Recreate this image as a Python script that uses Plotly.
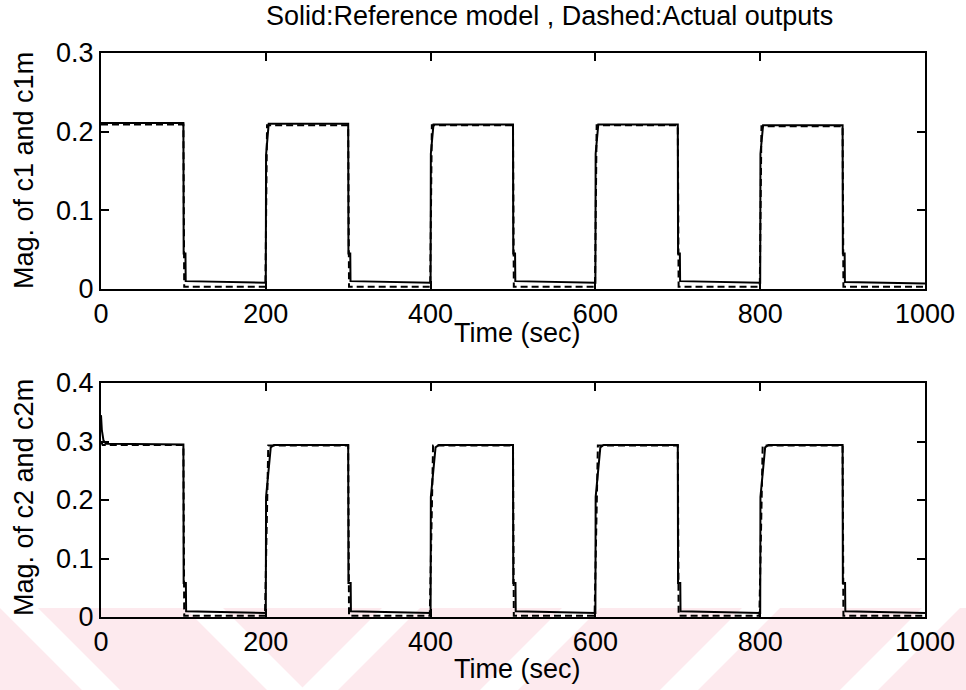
import plotly.graph_objects as go

# ---------------- data ----------------
# Top panel: c1m (reference model, solid) and c1 (actual output, dashed)
c1m_t = [0, 100, 100.3, 102.5, 102.8, 200, 200.3, 203.5,
         300, 300.3, 302.5, 302.8, 400, 400.3, 403.5,
         500, 500.3, 502.5, 502.8, 600, 600.3, 603.5,
         700, 700.3, 702.5, 702.8, 800, 800.3, 803.5,
         900, 900.3, 902.5, 902.8, 1000]
c1m_y = [0.211, 0.211, 0.045, 0.045, 0.010, 0.008, 0.170, 0.210,
         0.210, 0.045, 0.045, 0.010, 0.008, 0.172, 0.209,
         0.209, 0.045, 0.045, 0.010, 0.008, 0.172, 0.209,
         0.209, 0.045, 0.045, 0.010, 0.008, 0.172, 0.208,
         0.208, 0.045, 0.045, 0.009, 0.007]

c1_t = [0, 100, 101, 199.5, 201.5, 300, 301, 399.5, 401.5,
        500, 501, 599.5, 601.5, 700, 701, 799.5, 801.5, 900, 901, 1000]
c1_y = [0.209, 0.209, 0.003, 0.003, 0.208, 0.208, 0.003, 0.003, 0.208,
        0.208, 0.003, 0.003, 0.208, 0.208, 0.003, 0.003, 0.207, 0.207, 0.003, 0.003]

# Bottom panel: c2m (reference model, solid) and c2 (actual output, dashed)
c2m_t = [0, 1, 3, 6, 100, 100.3, 103, 103.3, 200, 200.3, 206, 210,
         300, 300.3, 303, 303.3, 400, 400.3, 406, 410,
         500, 500.3, 503, 503.3, 600, 600.3, 606, 610,
         700, 700.3, 703, 703.3, 800, 800.3, 806, 810,
         900, 900.3, 903, 903.3, 1000]
c2m_y = [0.345, 0.320, 0.302, 0.296, 0.295, 0.058, 0.058, 0.010, 0.007, 0.205, 0.290, 0.294,
         0.294, 0.058, 0.058, 0.010, 0.007, 0.205, 0.290, 0.294,
         0.294, 0.058, 0.058, 0.010, 0.007, 0.205, 0.290, 0.294,
         0.294, 0.058, 0.058, 0.010, 0.007, 0.205, 0.290, 0.294,
         0.294, 0.058, 0.058, 0.010, 0.007]

c2_t = [0, 2, 100, 101, 199, 203, 300, 301, 399, 403,
        500, 501, 599, 603, 700, 701, 799, 803, 900, 901, 1000]
c2_y = [0.300, 0.294, 0.294, 0.002, 0.002, 0.293, 0.293, 0.002, 0.002, 0.293,
        0.293, 0.002, 0.002, 0.293, 0.293, 0.002, 0.002, 0.293, 0.293, 0.002, 0.002]

x_ticks = [0, 200, 400, 600, 800, 1000]
y1_ticks = [0, 0.1, 0.2, 0.3]
y1_labels = ["0", "0.1", "0.2", "0.3"]
y2_ticks = [0, 0.1, 0.2, 0.3, 0.4]
y2_labels = ["0", "0.1", "0.2", "0.3", "0.4"]

title_text = "Solid:Reference model , Dashed:Actual outputs"
xlabel = "Time (sec)"
ylabel1 = "Mag. of c1 and c1m"
ylabel2 = "Mag. of c2 and c2m"

# ---------------- figure ----------------
FONT = "Liberation Sans, Arial, sans-serif"
W, H = 966, 690
ML, MR, MT, MB = 101, 41, 53, 73
PH = H - MT - MB
PW = W - ML - MR


def ypaper(py):
    return (H - MB - py) / PH


def xpaper(px):
    return (px - ML) / PW


fig = go.Figure()
dash = "7px,4px"
fig.add_trace(go.Scatter(x=c1_t, y=c1_y, mode="lines", xaxis="x", yaxis="y",
                         line=dict(color="black", width=2, dash=dash), showlegend=False))
fig.add_trace(go.Scatter(x=c1m_t, y=c1m_y, mode="lines", xaxis="x", yaxis="y",
                         line=dict(color="black", width=2), showlegend=False))
fig.add_trace(go.Scatter(x=c2_t, y=c2_y, mode="lines", xaxis="x2", yaxis="y2",
                         line=dict(color="black", width=2, dash=dash), showlegend=False))
fig.add_trace(go.Scatter(x=c2m_t, y=c2m_y, mode="lines", xaxis="x2", yaxis="y2",
                         line=dict(color="black", width=2), showlegend=False))

tick_font = dict(family=FONT, size=27, color="black")
axis_common = dict(showgrid=False, zeroline=False, showline=True, linecolor="black",
                   linewidth=2, mirror="ticks", ticks="inside", ticklen=8,
                   tickwidth=1.5, tickcolor="black", tickfont=tick_font)

fig.update_layout(
    width=W, height=H, plot_bgcolor="rgba(0,0,0,0)", paper_bgcolor="white",
    margin=dict(l=ML, r=MR, t=MT, b=MB),
    font=dict(family=FONT, size=24, color="black"),
    xaxis=dict(domain=[0, 1], range=[0, 1000], tickvals=x_ticks, anchor="y", **axis_common),
    yaxis=dict(domain=[ypaper(289), 1], range=[0, 0.3], tickvals=y1_ticks,
               ticktext=y1_labels, anchor="x", **axis_common),
    xaxis2=dict(domain=[0, 1], range=[0, 1000], tickvals=x_ticks, anchor="y2", **axis_common),
    yaxis2=dict(domain=[0, ypaper(383)], range=[0, 0.4], tickvals=y2_ticks,
                ticktext=y2_labels, anchor="x2", **axis_common),
)

# faint pink watermark band at the bottom of the page (diagonal stripes)
PINK = "#fdeaee"
wm_top, wm_bot = 608, 690


def ppath(pts):
    return "M " + " L ".join(f"{xpaper(x):.4f},{ypaper(y):.4f}" for x, y in pts) + " Z"


fig.add_shape(type="path", xref="paper", yref="paper", layer="below", line_width=0,
              fillcolor=PINK,
              path=ppath([(0, wm_top), (W, wm_top), (W, wm_bot), (0, wm_bot)]))
stripe_w = 38
back_tops = [0, 185]          # "\" white stripes (top-left x)
fwd_bots = [300, 480, 660, 840]  # "/" white stripes (bottom-left x)
drop = wm_bot - wm_top
for x0 in back_tops:
    fig.add_shape(type="path", xref="paper", yref="paper", layer="below", line_width=0,
                  fillcolor="white",
                  path=ppath([(x0, wm_top), (x0 + stripe_w, wm_top),
                              (x0 + stripe_w + drop, wm_bot), (x0 + drop, wm_bot)]))
for x0 in fwd_bots:
    fig.add_shape(type="path", xref="paper", yref="paper", layer="below", line_width=0,
                  fillcolor="white",
                  path=ppath([(x0, wm_bot), (x0 + stripe_w, wm_bot),
                              (x0 + stripe_w + drop, wm_top), (x0 + drop, wm_top)]))

title_font = dict(family=FONT, size=27, color="black")
label_font = dict(family=FONT, size=27, color="black")
fig.add_annotation(text=title_text, xref="paper", yref="paper",
                   x=xpaper(549), y=ypaper(16), showarrow=False, font=title_font,
                   xanchor="center", yanchor="middle")
fig.add_annotation(text=xlabel, xref="paper", yref="paper",
                   x=xpaper(517), y=ypaper(333), showarrow=False, font=label_font,
                   xanchor="center", yanchor="middle")
fig.add_annotation(text=xlabel, xref="paper", yref="paper",
                   x=xpaper(517), y=ypaper(669), showarrow=False, font=label_font,
                   xanchor="center", yanchor="middle")
fig.add_annotation(text=ylabel1, xref="paper", yref="paper", textangle=-90,
                   x=xpaper(24), y=ypaper(171), showarrow=False, font=label_font,
                   xanchor="center", yanchor="middle")
fig.add_annotation(text=ylabel2, xref="paper", yref="paper", textangle=-90,
                   x=xpaper(24), y=ypaper(498), showarrow=False, font=label_font,
                   xanchor="center", yanchor="middle")

fig.write_html("out.html", config={"displayModeBar": False},
               post_script="document.body.style.margin='0px';")
